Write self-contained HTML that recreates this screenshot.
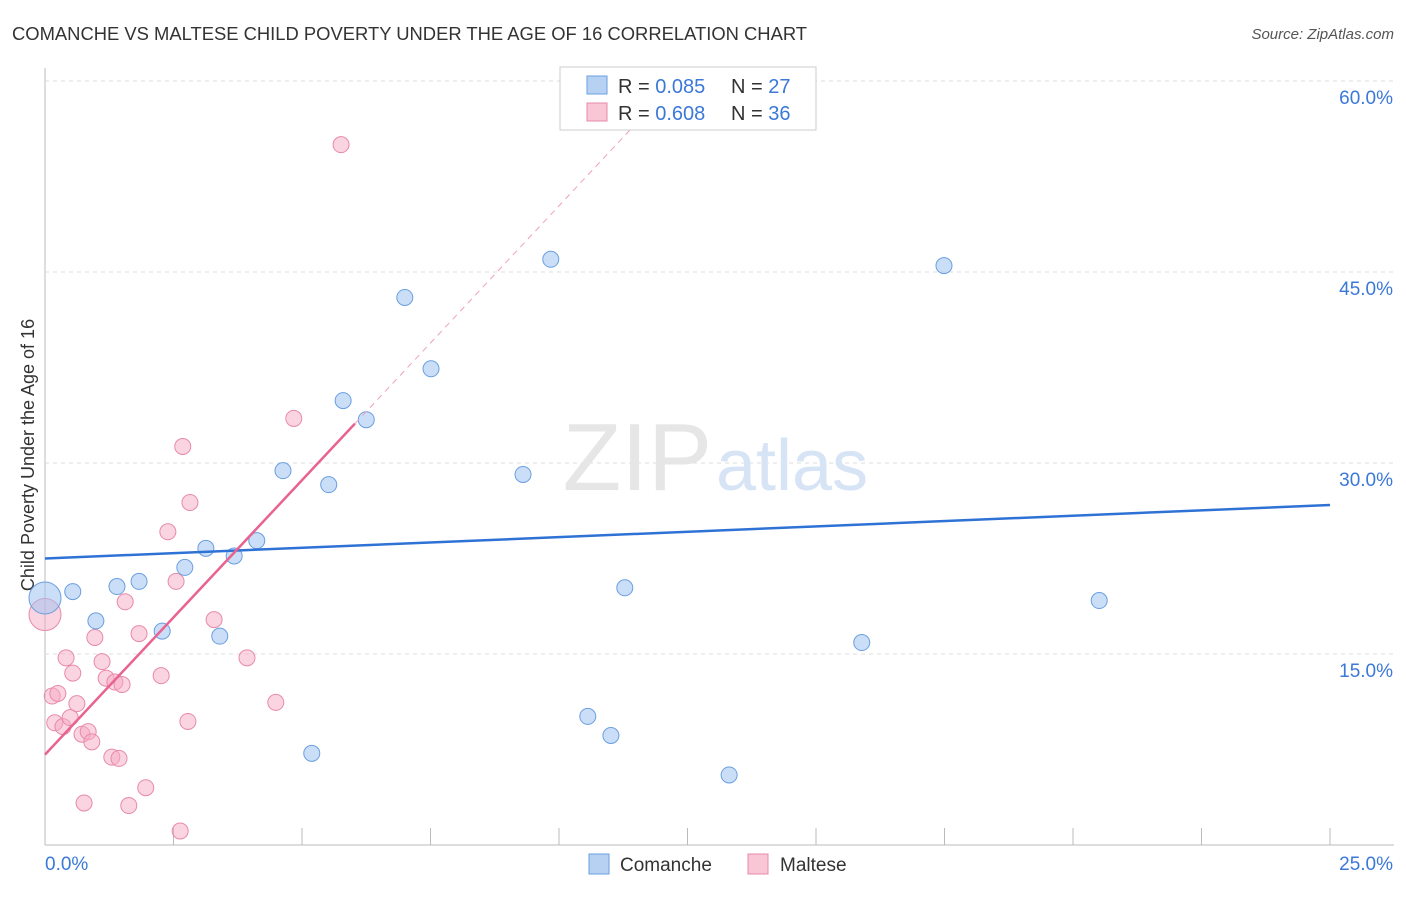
<!DOCTYPE html>
<html><head><meta charset="utf-8"><style>
body{margin:0;background:#fff;font-family:"Liberation Sans",sans-serif;}
svg text{font-family:"Liberation Sans",sans-serif;}
</style></head><body>
<svg id="chart" width="1406" height="892" viewBox="0 0 1406 892" xmlns="http://www.w3.org/2000/svg">
<text x="12" y="40" font-size="18.4" fill="#333">COMANCHE VS MALTESE CHILD POVERTY UNDER THE AGE OF 16 CORRELATION CHART</text>
<text x="1394" y="39" font-size="15" fill="#555" font-style="italic" text-anchor="end">Source: ZipAtlas.com</text>
<text x="0" y="0" transform="translate(34,455) rotate(-90)" font-size="18" fill="#333" text-anchor="middle">Child Poverty Under the Age of 16</text>
<g id="grid"></g>
<text x="712" y="490" font-size="96" fill="#e6e6e6" text-anchor="end" font-family="Liberation Serif">ZIP</text>
<text x="716" y="490" font-size="72" fill="#d6e4f6">atlas</text>
<g id="marks"></g>
<g>
<rect x="560" y="67" width="256" height="63" fill="#fff" stroke="#ccc"/>
<rect x="587" y="76" width="20" height="18" fill="#b7d1f3" stroke="#6a9fe0"/>
<text x="618" y="93" font-size="20" fill="#333">R = <tspan fill="#3b78d8">0.085</tspan></text>
<text x="731" y="93" font-size="20" fill="#333">N = <tspan fill="#3b78d8">27</tspan></text>
<rect x="587" y="103" width="20" height="18" fill="#f9c6d6" stroke="#e88aa8"/>
<text x="618" y="120" font-size="20" fill="#333">R = <tspan fill="#3b78d8">0.608</tspan></text>
<text x="731" y="120" font-size="20" fill="#333">N = <tspan fill="#3b78d8">36</tspan></text>
</g>
<g>
<rect x="589" y="854" width="20" height="20" fill="#b7d1f3" stroke="#6a9fe0"/>
<text x="620" y="871" font-size="19" fill="#333">Comanche</text>
<rect x="748" y="854" width="20" height="20" fill="#f9c6d6" stroke="#e88aa8"/>
<text x="780" y="871" font-size="19" fill="#333">Maltese</text>
</g>
</svg>
<script>
const yTicks=[15,30,45,60];
const yTickLabels=["15.0%","30.0%","45.0%","60.0%"];
const xEndLabels=["0.0%","25.0%"];
const comancheX=[0,0.54,0.99,1.40,1.83,2.28,2.72,3.13,3.40,3.68,4.12,4.63,5.19,5.52,5.80,6.25,7.00,7.51,9.30,9.84,10.56,11.01,11.28,13.31,15.89,17.49,20.51];
const comancheY=[19.4,19.9,17.6,20.3,20.7,16.8,21.8,23.3,16.4,22.7,23.9,29.4,7.2,28.3,34.9,33.4,43.0,37.4,29.1,46.0,10.1,8.6,20.2,5.5,15.9,45.5,19.2];
const malteseX=[0,0.14,0.25,0.19,0.35,0.41,0.49,0.54,0.62,0.72,0.76,0.84,0.91,0.97,1.11,1.19,1.30,1.36,1.44,1.50,1.56,1.63,1.83,1.96,2.26,2.39,2.55,2.63,2.68,2.78,2.82,3.29,3.93,4.49,4.84,5.76];
const malteseY=[18.1,11.7,11.9,9.6,9.3,14.7,10.0,13.5,11.1,8.7,3.3,8.9,8.1,16.3,14.4,13.1,6.9,12.8,6.8,12.6,19.1,3.1,16.6,4.5,13.3,24.6,20.7,1.1,31.3,9.7,26.9,17.7,14.7,11.2,33.5,55.0];
const comancheTrend=[22.5,26.7]; // at x=0 and x=25
const malteseTrend=[7.1,4.31]; // intercept, slope
const NS="http://www.w3.org/2000/svg";
const X=v=>45+v/25*1285, Y=v=>845-v/15*191;
const grid=document.getElementById('grid'), marks=document.getElementById('marks');
function mk(tag,at,parent){const e=document.createElementNS(NS,tag);for(const k in at)e.setAttribute(k,at[k]);parent.appendChild(e);return e;}
let ax=mk('line',{x1:45,y1:68,x2:45,y2:845,stroke:'#bbb'},grid);


let bx=mk('line',{x1:45,y1:845,x2:1394,y2:845,stroke:'#bbb'},grid);


for(let i=1;i<=10;i++){let t=mk('line',{x1:45+i*128.5,y1:828,x2:45+i*128.5,y2:845,stroke:'#bbb'},grid);

}
yTicks.forEach((v,i)=>{let g=mk('line',{x1:45,y1:Y(v),x2:1394,y2:Y(v),stroke:'#ddd','stroke-dasharray':'4,4'},grid);


let t=mk('text',{x:1393,y:Y(v)+23,'font-size':19,fill:'#3b78d8','text-anchor':'end'},grid);t.textContent=yTickLabels[i];

});
let l0=mk('text',{x:45,y:870,'font-size':19,fill:'#3b78d8'},grid);l0.textContent=xEndLabels[0];


let l1=mk('text',{x:1393,y:870,'font-size':19,fill:'#3b78d8','text-anchor':'end'},grid);l1.textContent=xEndLabels[1];


malteseX.forEach((x,i)=>{let c=mk('circle',{cx:X(x),cy:Y(malteseY[i]),r:i==0?16:8,fill:'rgba(245,170,195,0.5)',stroke:'#e88aa8','stroke-width':1},marks);

});
comancheX.forEach((x,i)=>{let c=mk('circle',{cx:X(x),cy:Y(comancheY[i]),r:i==0?16:8,fill:'rgba(160,195,240,0.55)',stroke:'#6a9fe0','stroke-width':1},marks);

});
let bt=mk('line',{x1:X(0),y1:Y(comancheTrend[0]),x2:X(25),y2:Y(comancheTrend[1]),stroke:'#2f72d6','stroke-width':2.5},marks);


const pEnd=6.03, pDash=11.5;
let pt=mk('line',{x1:X(0),y1:Y(malteseTrend[0]),x2:X(pEnd),y2:Y(malteseTrend[0]+malteseTrend[1]*pEnd),stroke:'#e8638f','stroke-width':2.5},marks);


let pd=mk('line',{x1:X(pEnd),y1:Y(malteseTrend[0]+malteseTrend[1]*pEnd),x2:X(pDash),y2:Y(malteseTrend[0]+malteseTrend[1]*pDash),stroke:'#f0a0b8','stroke-width':1,'stroke-dasharray':'6,5'},marks);


</script>
</body></html>
